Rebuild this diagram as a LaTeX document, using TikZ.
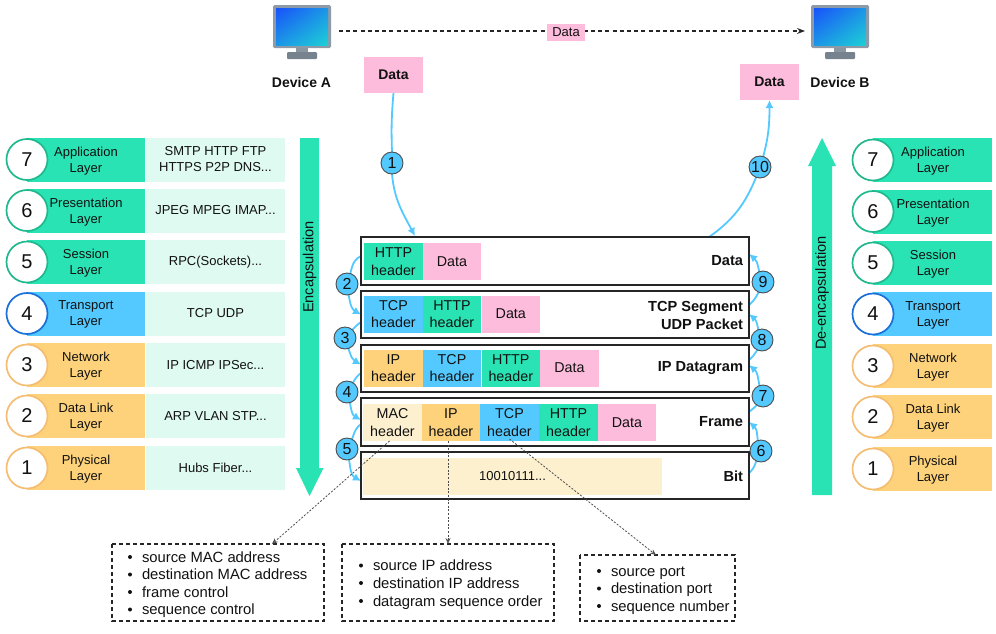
\documentclass[tikz,border=0pt]{standalone}
\usepackage{fontspec}
\setmainfont{Liberation Sans}
\usetikzlibrary{arrows.meta,calc,shadings,backgrounds}
\definecolor{mint}{HTML}{2AE3B4}
\definecolor{sky}{HTML}{53C9FF}
\definecolor{amber}{HTML}{FDD27A}
\definecolor{pale}{HTML}{DFFAF0}
\definecolor{pinky}{HTML}{FDBCDC}
\definecolor{beige}{HTML}{FDF0CF}
\definecolor{mintline}{HTML}{20B98D}
\definecolor{skyline}{HTML}{1A6FD9}
\definecolor{amberline}{HTML}{F5BD72}
\definecolor{monframe}{HTML}{8E9AA8}
\definecolor{monbase}{HTML}{76838F}
\definecolor{ink}{HTML}{111111}
\definecolor{scrA}{HTML}{1852FA}
\definecolor{scrB}{HTML}{1C96E6}
\definecolor{scrC}{HTML}{1CD0D6}
\tikzset{
  x=1pt,y=-1pt,
  every node/.style={text=ink,inner sep=0pt,outer sep=0pt},
  palebox/.style={fill=pale,minimum width=139pt,minimum height=44pt,align=center,font=\fontsize{13}{16}\selectfont},
  numdisc/.style={circle,draw,fill=white,line width=1.7pt,minimum size=41pt,font=\fontsize{20}{22}\selectfont},
  stackbox/.style={draw=black!85,line width=1.6pt,minimum width=388pt,fill=white},
  cellbox/.style={minimum height=37pt,minimum width=58.6pt,align=center,font=\fontsize{14.3}{17.5}\selectfont},
  stacklabel/.style={anchor=east,align=right,font=\bfseries\fontsize{14.6}{18}\selectfont},
  stepdisc/.style={circle,draw=black!70,fill=sky,line width=0.9pt,minimum size=22pt,font=\fontsize{16}{16}\selectfont},
  flow/.style={draw=sky,line width=1.8pt},
  flowtip/.style={flow,-{Latex[length=8pt,width=8pt]}},
  pinkbox/.style={fill=pinky,minimum width=59pt,minimum height=36pt,font=\bfseries\fontsize{14}{16}\selectfont},
  devlabel/.style={font=\bfseries\fontsize{14}{16}\selectfont},
  listbox/.style={draw=black!85,line width=1.2pt,dash pattern=on 4pt off 3pt},
  listtext/.style={anchor=base west,font=\fontsize{14.8}{17}\selectfont},
  listdot/.style={circle,fill=ink,minimum size=4pt},
  dotline/.style={draw=black!70,line width=0.8pt,dash pattern=on 2pt off 1.6pt,-{Stealth[length=6pt,width=5pt,open]}},
  bigarrow/.style={fill=mint},
  toplink/.style={draw=black!85,line width=1.3pt,dash pattern=on 4pt off 3.2pt,-{Stealth[length=8pt,width=6pt]}},
  bigtext/.style={rotate=90,font=\fontsize{14.6}{16}\selectfont},
}
\begin{document}
\begin{tikzpicture}
\useasboundingbox (0,0) rectangle (996,633);
% monitors
\foreach \mx in {273,811}{
  \begin{scope}[shift={(\mx,0)}]
    \fill[monbase!85] (23,47) rectangle (35,53);
    \fill[monbase,rounded corners=1pt] (14,52) rectangle (44,59);
    \fill[monframe,rounded corners=1.5pt] (0,5) rectangle (58,48);
    \shade[upper left=scrA,upper right=scrB,lower left=scrB,lower right=scrC] (3,8) rectangle (55,45);
  \end{scope}
}
\coordinate (monA) at (339,31);
\coordinate (monB) at (805,31);
\node[devlabel] (devA) at (301.5,82) {Device A};
\node[devlabel] (devB) at (840,82) {Device B};
\draw[toplink] (monA) -- (monB);
\node[fill=pinky,minimum width=38pt,minimum height=17pt,font=\fontsize{13}{15}\selectfont] (dlab) at (566,32) {Data};
\node[pinkbox] (dataA) at (393.5,75) {Data};
\node[pinkbox] (dataB) at (769.5,82) {Data};

% left layers
\foreach \n/\y/\a/\pr/\fc/\lc in {
  7/159.5/Application/{SMTP HTTP FTP\\HTTPS P2P DNS...}/mint/mintline,
  6/210.5/Presentation/{JPEG MPEG IMAP...}/mint/mintline,
  5/262/Session/{RPC(Sockets)...}/mint/mintline,
  4/313.5/Transport/{TCP UDP}/sky/skyline,
  3/365/Network/{IP ICMP IPSec...}/amber/amberline,
  2/416/Data Link/{ARP VLAN STP...}/amber/amberline,
  1/468/Physical/{Hubs Fiber...}/amber/amberline}{
  \fill[\fc] (27,\y-22) rectangle (145,\y+22);
  \node[palebox] (lp\n) at (215.5,\y) {\pr};
  \node[align=center,font=\fontsize{13}{16}\selectfont] (lt\n) at (86,\y+1.3) {\a\\Layer};
  \node[numdisc,draw=\lc] (lc\n) at (27,\y) {\n};
}
% right layers
\foreach \n/\y/\a/\fc/\lc in {
  7/160/Application/mint/mintline,
  6/211.5/Presentation/mint/mintline,
  5/263/Session/mint/mintline,
  4/314/Transport/sky/skyline,
  3/366/Network/amber/amberline,
  2/417/Data Link/amber/amberline,
  1/469/Physical/amber/amberline}{
  \fill[\fc] (873,\y-22) rectangle (992,\y+22);
  \node[align=center,font=\fontsize{13}{16}\selectfont] (rt\n) at (933,\y+1.3) {\a\\Layer};
  \node[numdisc,draw=\lc] (rc\n) at (873,\y) {\n};
}
% big arrows
\fill[bigarrow] (300,138) -- (319,138) -- (319,468) -- (323.5,468) -- (309.5,496) -- (296,468) -- (300,468) -- cycle;
\node[bigtext] (enc) at (309.5,267) {Encapsulation};
\fill[bigarrow] (812,495) -- (832,495) -- (832,166) -- (836,166) -- (822,138) -- (808,166) -- (812,166) -- cycle;
\node[bigtext] (dec) at (822,293) {De-encapsulation};

% stack boxes
\node[stackbox,minimum height=48pt] (s1) at (555,261) {};
\node[stackbox,minimum height=47pt] (s2) at (555,314.5) {};
\node[stackbox,minimum height=47pt] (s3) at (555,368.5) {};
\node[stackbox,minimum height=48pt] (s4) at (555,422) {};
\node[stackbox,minimum height=47pt] (s5) at (555,475.5) {};
% cells
\node[cellbox,fill=mint] (c11) at (393.5,261.5) {HTTP\\header};
\node[cellbox,fill=pinky] (c12) at (452,261.5) {Data};
\node[cellbox,fill=sky] (c21) at (393.5,314) {TCP\\header};
\node[cellbox,fill=mint] (c22) at (452,314) {HTTP\\header};
\node[cellbox,fill=pinky] (c23) at (510.8,314) {Data};
\node[cellbox,fill=amber] (c31) at (393.5,368) {IP\\header};
\node[cellbox,fill=sky] (c32) at (452,368) {TCP\\header};
\node[cellbox,fill=mint] (c33) at (510.8,368) {HTTP\\header};
\node[cellbox,fill=pinky] (c34) at (569.5,368) {Data};
\node[cellbox,fill=beige] (c41) at (392.5,422.5) {MAC\\header};
\node[cellbox,fill=amber] (c42) at (451,422.5) {IP\\header};
\node[cellbox,fill=sky] (c43) at (509.5,422.5) {TCP\\header};
\node[cellbox,fill=mint] (c44) at (568.5,422.5) {HTTP\\header};
\node[cellbox,fill=pinky] (c45) at (627,422.5) {Data};
\node[fill=beige,minimum width=299pt,minimum height=37pt,font=\fontsize{13}{16}\selectfont] (c51) at (512.5,476.5) {10010111...};
% stack labels
\node[stacklabel] (n1) at (743,261) {Data};
\node[stacklabel] (n2) at (743,315) {TCP Segment\\UDP Packet};
\node[stacklabel] (n3) at (743,368) {IP Datagram};
\node[stacklabel] (n4) at (743,422) {Frame};
\node[stacklabel] (n5) at (743,476) {Bit};

% attachment points
\coordinate (p1) at ($(s1.north west)+(54,-1)$);
\coordinate (p10) at ($(s1.north west)+(348,0)$);
\coordinate (la2) at ($(s1.west)+(0,-5)$);
\coordinate (lb2) at ($(s2.west)+(0,0)$);
\coordinate (la3) at ($(s2.west)+(0,7.5)$);
\coordinate (lb3) at ($(s3.west)+(0,-4)$);
\coordinate (la4) at ($(s3.west)+(0,4.5)$);
\coordinate (lb4) at ($(s4.west)+(0,-2)$);
\coordinate (la5) at ($(s4.west)+(0,2)$);
\coordinate (lb5) at ($(s5.west)+(0,5.5)$);
\coordinate (ra9) at ($(s2.east)+(0,-9.5)$);
\coordinate (rb9) at ($(s1.east)+(0,-7)$);
\coordinate (ra8) at ($(s3.east)+(0,-8.5)$);
\coordinate (rb8) at ($(s2.east)+(0,-0.5)$);
\coordinate (ra7) at ($(s4.east)+(0,-10)$);
\coordinate (rb7) at ($(s3.east)+(0,-3.5)$);
\coordinate (ra6) at ($(s5.east)+(0,-2.5)$);
\coordinate (rb6) at ($(s4.east)+(0,0)$);
% step discs
\node[stepdisc] (st1) at (392,163) {1};
\node[stepdisc] (st2) at (347,284) {2};
\node[stepdisc] (st3) at (345,338) {3};
\node[stepdisc] (st4) at (347,392) {4};
\node[stepdisc] (st5) at (347,449) {5};
\node[stepdisc] (st6) at (761,451) {6};
\node[stepdisc] (st7) at (763,396) {7};
\node[stepdisc] (st8) at (762,340) {8};
\node[stepdisc] (st9) at (763,282) {9};
\node[stepdisc] (st10) at (760,167) {10};
% flows, beneath the discs
\begin{scope}[on background layer]
\draw[flow] (dataA.south) to[out=265,in=92] (st1.north);
\draw[flowtip] (st1.south) to[out=-85,in=118] (p1);
\draw[flow] (p10) to[out=35,in=-110] (st10.center);
\draw[flowtip] (st10.center) to[out=72,in=-90] (dataB.south);
\draw[flow] (la2) to[out=205,in=65] (st2.center);
\draw[flowtip] (st2.center) to[out=-80,in=150] (lb2);
\draw[flow] (la3) to[out=215,in=45] (st3.center);
\draw[flowtip] (st3.center) to[out=-70,in=150] (lb3);
\draw[flow] (la4) to[out=215,in=50] (st4.center);
\draw[flowtip] (st4.center) to[out=-70,in=150] (lb4);
\draw[flow] (la5) to[out=215,in=50] (st5.center);
\draw[flowtip] (st5.center) to[out=-75,in=150] (lb5);
\draw[flow] (ra9) to[out=40,in=-115] (st9.center);
\draw[flowtip] (st9.center) to[out=115,in=-40] (rb9);
\draw[flow] (ra8) to[out=40,in=-115] (st8.center);
\draw[flowtip] (st8.center) to[out=115,in=-40] (rb8);
\draw[flow] (ra7) to[out=40,in=-115] (st7.center);
\draw[flowtip] (st7.center) to[out=115,in=-40] (rb7);
\draw[flow] (ra6) to[out=40,in=-125] (st6.center);
\draw[flowtip] (st6.center) to[out=115,in=-40] (rb6);
\end{scope}

% list boxes
\draw[listbox] (112,544) rectangle (324,621);
\coordinate (t1) at (272,544);
\draw[listbox] (342,544) rectangle (554,621);
\coordinate (t2) at (448,544);
\draw[listbox] (580,555) rectangle (735,621);
\coordinate (t3) at (656,555);
\coordinate (f1) at ($(c41.south)+(-3,0)$);
\coordinate (f2) at ($(c42.south)+(-3,0)$);
\coordinate (f3) at ($(c43.south)+(0,-2)$);
\draw[dotline] (f1) -- (t1);
\draw[dotline] (f2) -- (t2);
\draw[dotline] (f3) -- (t3);
\foreach \i/\y/\t in {1/557/source MAC address,2/574.5/destination MAC address,3/592/frame control,4/609.5/sequence control}{
  \node[listdot] (da\i) at (130,\y) {};
  \node[listtext] (ta\i) at (142,\y+5) {\t};
}
\foreach \i/\y/\t in {1/565.5/source IP address,2/583/destination IP address,3/601/datagram sequence order}{
  \node[listdot] (db\i) at (361,\y) {};
  \node[listtext] (tb\i) at (373,\y+5) {\t};
}
\foreach \i/\y/\t in {1/571/source port,2/588.5/destination port,3/606/sequence number}{
  \node[listdot] (dc\i) at (599,\y) {};
  \node[listtext] (tc\i) at (611,\y+5) {\t};
}
\end{tikzpicture}
\end{document}
